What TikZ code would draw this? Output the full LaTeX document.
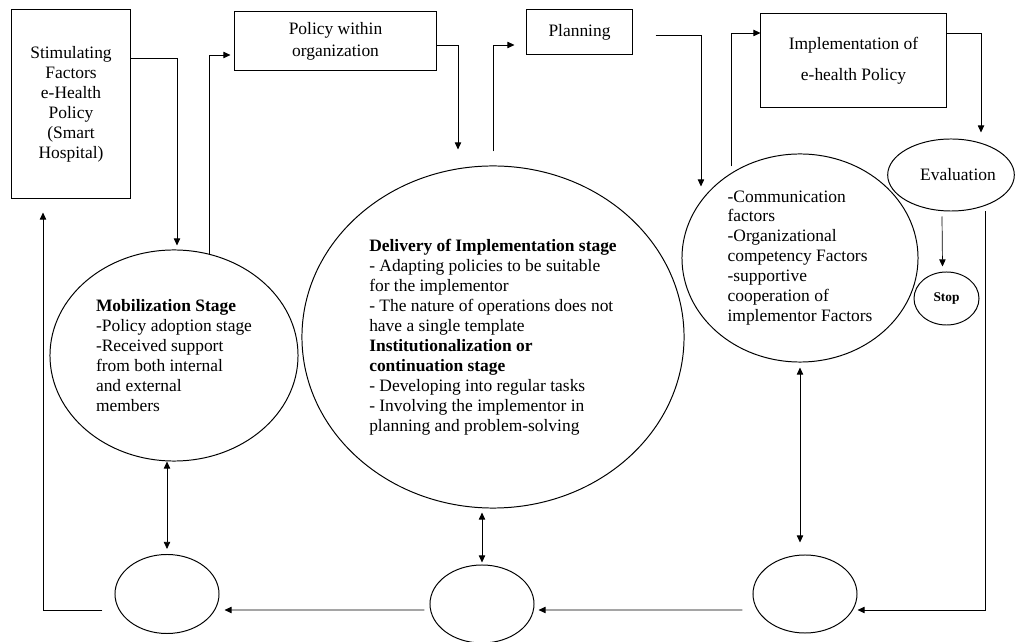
\documentclass[tikz,border=0pt]{standalone}
\usepackage{fontspec}
\setmainfont{Liberation Serif}
\usetikzlibrary{%
  arrows.meta,%
  shapes.geometric
}

\tikzset{
  box/.style={draw,line width=0.7pt,inner sep=0pt,align=center,font=\fontsize{12.4}{14.2}\selectfont},
  oval/.style={draw,ellipse,line width=0.7pt,inner sep=0pt,font=\fontsize{12.4}{14.2}\selectfont},
  flow/.style={-{Triangle[length=5pt,width=4.5pt]},line width=0.5pt},
  both/.style={{Triangle[length=5pt,width=4.5pt]}-{Triangle[length=5pt,width=4.5pt]},line width=0.5pt}
}

\begin{document}
\begin{tikzpicture}[x=0.025cm,y=-0.025cm]
      \useasboundingbox (0,0) rectangle (1015,642);
      % boxes along the top
      \node [box,minimum width=2.95cm,minimum height=4.7cm] (stim) at (71,104) {Stimulating\\Factors\\e-Health\\Policy\\(Smart\\Hospital)};
      \node [box,minimum width=5.025cm,minimum height=1.45cm,font=\fontsize{12.4}{15.6}\selectfont] (pol) at (335.5,41) {Policy within\\organization};
      \node [box,minimum width=2.625cm,minimum height=1.1cm] (plan) at (579.5,32) {Planning};
      \node [box,minimum width=4.625cm,minimum height=2.325cm,font=\fontsize{12.4}{22}\selectfont] (impl) at (853.5,60.5) {Implementation of\\e-health Policy};
      % stages
      \node [oval,minimum width=6.2cm,minimum height=5.275cm,align=left] (mob) at (174,355.5) {\textbf{Mobilization Stage}\\-Policy adoption stage\\-Received support\\from both internal\\and external\\members};
      \node [oval,minimum width=9.55cm,minimum height=8.55cm,align=left] (big) at (493,337) {\textbf{Delivery of Implementation stage}\\- Adapting policies to be suitable\\for the implementor\\- The nature of operations does not\\have a single template\\\textbf{Institutionalization or}\\\textbf{continuation stage}\\- Developing into regular tasks\\- Involving the implementor in\\planning and problem-solving};
      \node [oval,minimum width=5.9cm,minimum height=5.2cm,align=left] (comm) at (800,258) {-Communication\\factors\\-Organizational\\competency Factors\\-supportive\\cooperation of\\implementor Factors};
      \node [oval,minimum width=3.15cm,minimum height=1.8cm] (eval) at (951,175) {\hspace*{0.35cm}Evaluation};
      \node [oval,minimum width=1.625cm,minimum height=1.325cm,font=\fontsize{9.5}{11}\selectfont\bfseries] (stop) at (946.5,298.5) {Stop};
      % empty circles at the bottom
      \node [oval,minimum width=2.6cm,minimum height=1.975cm] (lc) at (167,594) {};
      \node [oval,minimum width=2.6cm,minimum height=1.95cm] (mc) at (482,604) {};
      \node [oval,minimum width=2.6cm,minimum height=1.95cm] (rc) at (805,594) {};
      % flow
      \draw [flow] ([yshift=1.15cm]stim.east) -| ([xshift=0.075cm,yshift=0.1cm]mob.north);
      \draw [flow] (mob.71.5) |- ([xshift=-0.1cm,yshift=-0.35cm]pol.west);
      \draw [flow] ([yshift=-0.1cm]pol.east) -| ([xshift=-0.875cm,yshift=0.4cm]big.north);
      \draw [flow] ([yshift=0.35cm]big.north) |- ([xshift=-0.3cm,yshift=-0.325cm]plan.west);
      \draw [flow] ([xshift=0.575cm,yshift=-0.075cm]plan.east) -| ([xshift=-2.475cm,yshift=-0.825cm]comm.north);
      \draw [flow] ([xshift=-1.725cm,yshift=-0.325cm]comm.north) |- ([yshift=0.6875cm]impl.west);
      \draw [flow] ([yshift=0.6875cm]impl.east) -| ([xshift=0.75cm,yshift=0.15cm]eval.north);
      \draw [flow] ([xshift=-0.225cm,yshift=-0.125cm]eval.south) -- ([xshift=-0.1cm,yshift=0.125cm]stop.north);
      \draw [flow] ([xshift=0.85cm]eval.south) |- ([yshift=-0.4cm]rc.east);
      \draw [flow] ([xshift=-0.25cm,yshift=-0.4cm]rc.west) -- ([xshift=0.1cm,yshift=-0.15cm]mc.east);
      \draw [flow] ([xshift=-0.125cm,yshift=-0.15cm]mc.west) -- ([xshift=0.125cm,yshift=-0.4cm]lc.east);
      \draw [flow] ([xshift=-0.3cm,yshift=-0.4cm]lc.west) -| ([xshift=-0.7cm,yshift=-0.35cm]stim.south);
      % two-way links
      \draw [both,shorten >=0.125cm] (lc.north |- mob.south) -- (lc.north);
      \draw [both,shorten <=0.1cm,shorten >=0.05cm] (mc.north |- big.south) -- (mc.north);
      \draw [both,shorten <=0.125cm,shorten >=0.3cm] (comm.south) -- (comm.south |- rc.north);
    \end{tikzpicture}
\end{document}
